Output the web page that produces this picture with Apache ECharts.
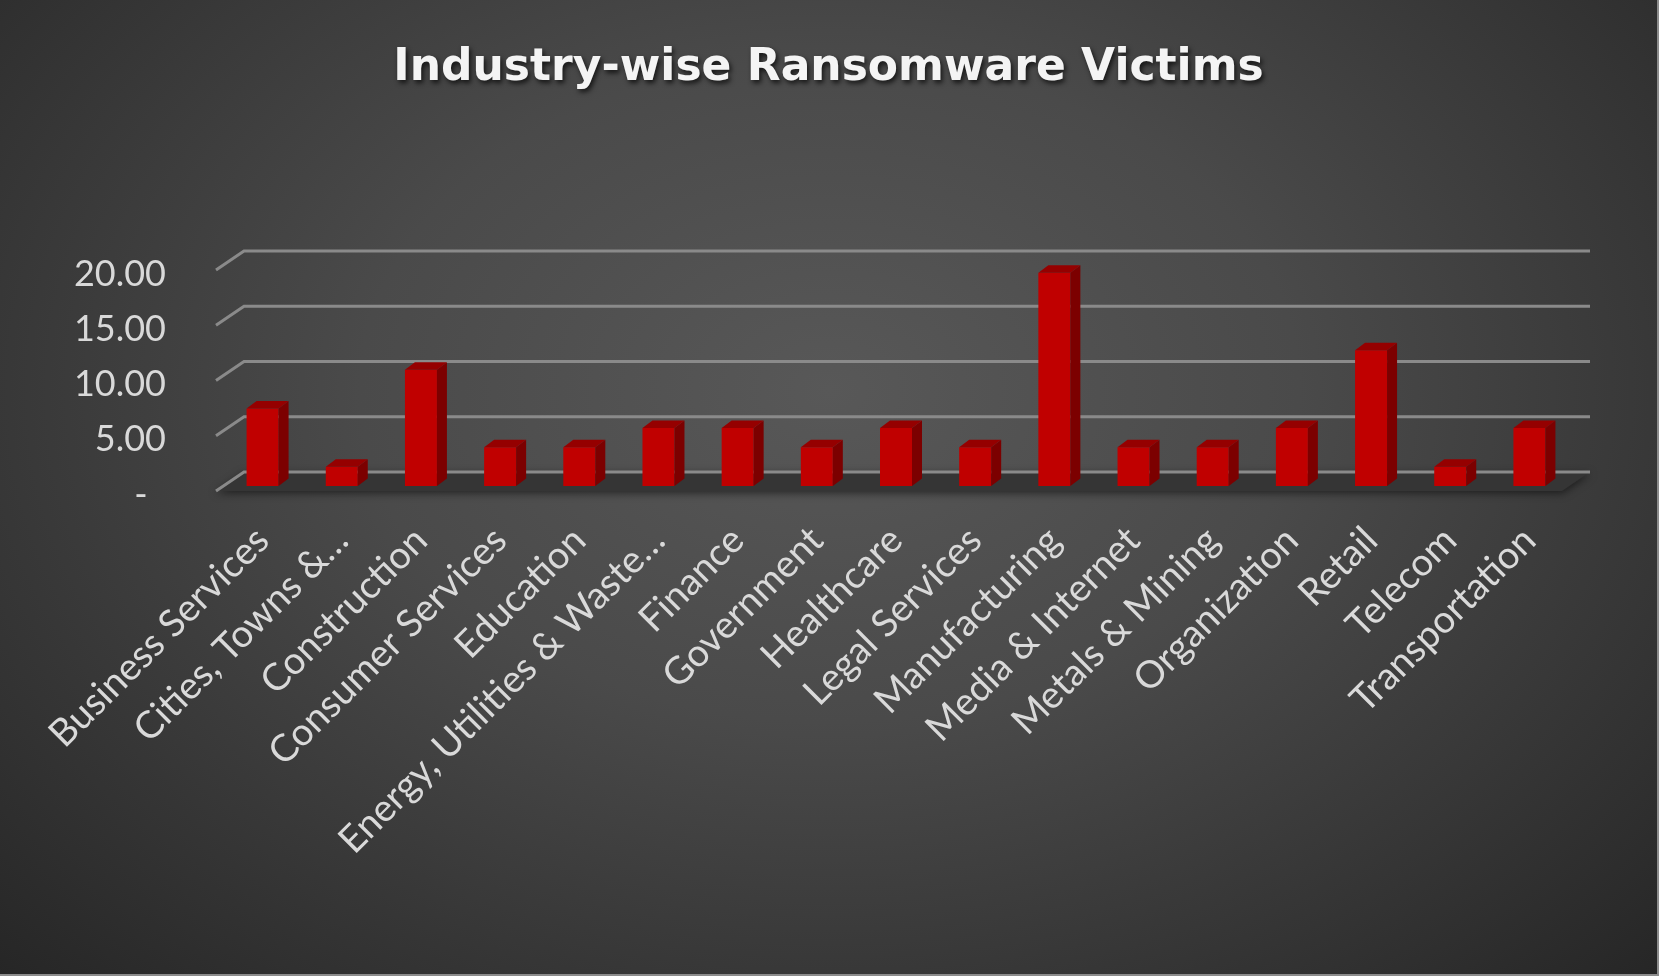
<!DOCTYPE html>
<html>
<head>
<meta charset="utf-8">
<title>Industry-wise Ransomware Victims</title>
<script src="https://cdn.jsdelivr.net/npm/echarts@6/dist/echarts.min.js"></script>
<style>
    html, body { margin: 0; padding: 0; width: 1659px; height: 976px; overflow: hidden; }
    body {
        background: radial-gradient(ellipse farthest-corner at 50% 40%,
            #585858 0%, #4a4a4a 40%, #383838 70%, #262626 100%);
    }
    #chart {
        width: 1659px; height: 976px; box-sizing: border-box;
        border-right: 2px solid #8c8c8c; border-bottom: 2px solid #8c8c8c;
    }
</style>
</head>
<body>
<div id="chart"></div>
<script>
const categories = [
    'Business Services', 'Cities, Towns &…', 'Construction', 'Consumer Services',
    'Education', 'Energy, Utilities & Waste…', 'Finance', 'Government',
    'Healthcare', 'Legal Services', 'Manufacturing', 'Media & Internet',
    'Metals & Mining', 'Organization', 'Retail', 'Telecom', 'Transportation'
];
const victimShare = [
    7.02, 1.75, 10.53, 3.51,
    3.51, 5.26, 5.26, 3.51,
    5.26, 3.51, 19.30, 3.51,
    3.51, 5.26, 12.28, 1.75, 5.26
];
const yTicks = [0, 5, 10, 15, 20];

// the grid is the plane of the bar front faces; the front edge of the floor
// and the back wall are shifted from it to fake Excel's 3D look
const front = [-7, 5];
const back = [21, -14];
const barW = 32;
const side = [10, -7.5];

document.addEventListener('DOMContentLoaded', () => {
    const chart = echarts.init(document.getElementById('chart'));

    function renderWall(params, api) {
        const v = api.value(1);
        const p0 = api.coord([0, v]);
        const p1 = api.coord([categories.length - 1, v]);
        const half = api.size([1, 0])[0] / 2;
        const left = p0[0] - half;
        const right = p1[0] + half;
        const y = p0[1];
        const children = [];
        if (v === yTicks[0]) {
            children.push({
                type: 'polygon',
                shape: { points: [
                    [left + front[0], y + front[1]], [right + front[0], y + front[1]],
                    [right + back[0], y + back[1]], [left + back[0], y + back[1]]
                ] },
                style: { fill: '#353535', shadowBlur: 8, shadowColor: 'rgba(0,0,0,0.55)', shadowOffsetY: 2 }
            });
        }
        children.push({
            type: 'polyline',
            shape: { points: [
                [left + front[0], y + front[1]],
                [left + back[0], y + back[1]],
                [right + back[0], y + back[1]]
            ] },
            style: { stroke: '#8a8a8a', lineWidth: 3, fill: null }
        });
        return { type: 'group', children };
    }

    function renderBar(params, api) {
        const top = api.coord([api.value(0), api.value(1)]);
        const base = api.coord([api.value(0), 0]);
        const x0 = top[0] - barW / 2;
        const x1 = x0 + barW;
        return {
            type: 'group',
            children: [
                {
                    type: 'rect',
                    shape: { x: x0, y: top[1], width: barW, height: base[1] - top[1] },
                    style: { fill: '#c00000' }
                },
                {
                    type: 'polygon',
                    shape: { points: [
                        [x1, top[1]], [x1 + side[0], top[1] + side[1]],
                        [x1 + side[0], base[1] + side[1]], [x1, base[1]]
                    ] },
                    style: { fill: '#7c0000' }
                },
                {
                    type: 'polygon',
                    shape: { points: [
                        [x0, top[1]], [x0 + side[0], top[1] + side[1]],
                        [x1 + side[0], top[1] + side[1]], [x1, top[1]]
                    ] },
                    style: { fill: '#950000' }
                }
            ]
        };
    }

    const option = {
        backgroundColor: 'transparent',
        animation: false,
        title: {
            text: 'Industry-wise Ransomware Victims',
            left: 'center',
            top: 42,
            textStyle: {
                color: '#f4f4f4',
                fontFamily: 'DejaVu Sans',
                fontWeight: 'bold',
                fontSize: 44,
                textShadowColor: 'rgba(0,0,0,0.7)',
                textShadowBlur: 5,
                textShadowOffsetX: 2,
                textShadowOffsetY: 3
            }
        },
        grid: { left: 223, right: 88, top: 265, bottom: 488 },
        xAxis: {
            type: 'category',
            data: categories,
            axisLine: { show: false },
            axisTick: { show: false },
            axisLabel: {
                interval: 0,
                rotate: 45,
                margin: 48,
                color: '#d9d9d9',
                fontFamily: 'Lato',
                fontSize: 38
            }
        },
        yAxis: {
            type: 'value',
            min: 0,
            max: 20,
            interval: 5,
            axisLine: { show: false },
            axisTick: { show: false },
            splitLine: { show: false },
            axisLabel: {
                margin: 57,
                color: '#d9d9d9',
                fontFamily: 'Lato',
                fontSize: 36,
                verticalAlign: 'top',
                lineHeight: 18,
                formatter: v => v === 0 ? '-  ' : v.toFixed(2)
            }
        },
        series: [
            {
                type: 'custom',
                z: 1,
                clip: false,
                silent: true,
                renderItem: renderWall,
                encode: { x: 0, y: 1 },
                data: yTicks.map(v => [0, v])
            },
            {
                type: 'custom',
                z: 2,
                clip: false,
                renderItem: renderBar,
                encode: { x: 0, y: 1 },
                data: victimShare.map((v, i) => [i, v])
            }
        ]
    };
    chart.setOption(option);
});
</script>
</body>
</html>
